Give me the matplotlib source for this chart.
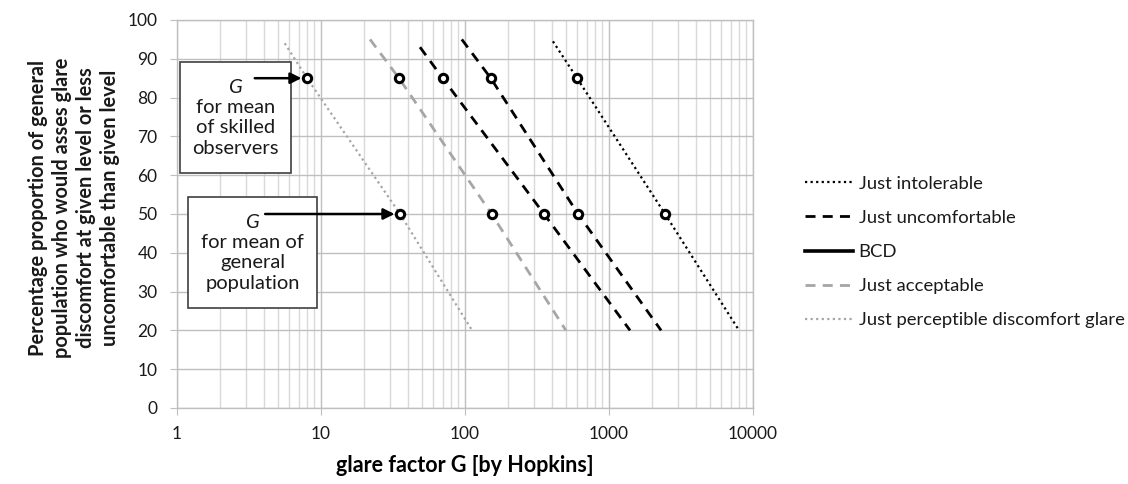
import numpy as np
import matplotlib
matplotlib.use("Agg")
import matplotlib.pyplot as plt
from matplotlib.lines import Line2D
from matplotlib.patches import Rectangle

# ── Data (proportion levels vs. glare factor G) ────────────────────────────
lvl_intol  = [94.5, 85, 50, 20]
g_intol    = [408, 600, 2450, 8000]

lvl_uncomf = [95, 85, 50, 20]
g_uncomf   = [95, 151, 610, 2300]

lvl_bcd    = [93, 85, 50, 20]
g_bcd      = [48.7, 70, 354, 1400]

lvl_accept = [95, 85, 50, 20]
g_accept   = [21.9, 34.8, 153, 502]

lvl_percep = [94, 85, 50, 20]
g_percep   = [5.6, 8, 35.4, 112]

labels = ["Just intolerable", "Just uncomfortable", "BCD",
          "Just acceptable", "Just perceptible discomfort glare"]

BLACK = "#000000"
GRAY  = "#a6a6a6"
GRID_MAJ = "#bfbfbf"
GRID_MIN = "#d9d9d9"
TEXT_C = "#1a1a1a"

plt.rcParams.update({
    "font.family": ["Lato", "DejaVu Sans"],
    "font.size": 11,
    "text.color": TEXT_C,
    "xtick.labelcolor": TEXT_C,
    "ytick.labelcolor": TEXT_C,
    "mathtext.fontset": "custom",
    "mathtext.it": "Lato:italic",
    "mathtext.rm": "Lato",
})

fig = plt.figure(figsize=(11.28, 4.84), dpi=100)
ax = fig.add_axes([177 / 1128, 1 - 408 / 484, 576 / 1128, 388 / 484])

DASH = (0, (3.6, 2.6))
DOT = (0, (1, 1.5))

series = [
    (g_intol,  lvl_intol,  BLACK, DOT,  1.6),
    (g_uncomf, lvl_uncomf, BLACK, DASH, 2.0),
    (g_bcd,    lvl_bcd,    BLACK, DASH, 2.0),
    (g_accept, lvl_accept, GRAY,  DASH, 2.0),
    (g_percep, lvl_percep, GRAY,  DOT,  1.6),
]

for g, lvl, col, ls, lw in series:
    ax.plot(g, lvl, color=col, linestyle=ls, linewidth=lw,
            dash_capstyle="butt", zorder=3)
    # circle markers at 85 % and 50 %
    ax.plot(g[1:3], lvl[1:3], linestyle="none", marker="o", ms=6,
            mew=2.2, mec=BLACK, mfc="white", zorder=4)

ax.set_xscale("log")
ax.set_xlim(1, 10000)
ax.set_ylim(0, 100)
ax.set_yticks(np.arange(0, 101, 10))
ax.set_xticks([1, 10, 100, 1000, 10000])
ax.set_xticklabels(["1", "10", "100", "1000", "10000"])
ax.xaxis.set_minor_formatter(plt.NullFormatter())
ax.tick_params(axis="x", which="minor", length=0)
ax.tick_params(axis="both", which="major", length=5, color=GRID_MAJ,
               labelsize=12.5)
ax.tick_params(axis="y", pad=9)
ax.tick_params(axis="x", pad=8)

ax.grid(True, which="major", color=GRID_MAJ, linewidth=1.0)
ax.grid(True, which="minor", axis="x", color=GRID_MIN, linewidth=1.0)
ax.set_axisbelow(True)
for s in ax.spines.values():
    s.set_color(GRID_MAJ)
    s.set_linewidth(1.0)

ax.set_xlabel("glare factor G [by Hopkins]", fontsize=15.5, fontweight="bold",
              labelpad=9)
fig.text(74 / 1128, 1 - 208 / 484,
         "Percentage proportion of general\n"
         "population who would asses glare\n"
         "discomfort at given level or less\n"
         "uncomfortable than given level",
         rotation=90, ha="center", va="center", multialignment="center",
         fontsize=14.4, fontweight="bold", linespacing=1.25)

# ── Annotation boxes ──────────────────────────────────────────────────────
ax.add_patch(Rectangle((0.005, 0.606), 0.193, 0.286, transform=ax.transAxes,
                       facecolor="white", edgecolor="#404040", lw=1.2,
                       zorder=5))
ax.text(0.1016, 0.749, "$G$\nfor mean\nof skilled\nobservers",
        transform=ax.transAxes, ha="center", va="center", fontsize=14.5,
        linespacing=1.22, zorder=6)

ax.add_patch(Rectangle((0.019, 0.258), 0.224, 0.286, transform=ax.transAxes,
                       facecolor="white", edgecolor="#404040", lw=1.2,
                       zorder=5))
ax.text(0.131, 0.401, "$G$\nfor mean of\ngeneral\npopulation",
        transform=ax.transAxes, ha="center", va="center", fontsize=14.5,
        linespacing=1.22, zorder=6)

arrow_kw = dict(arrowstyle="-|>,head_length=0.6,head_width=0.3",
                color=BLACK, lw=1.8, shrinkA=0, shrinkB=4)
ax.annotate("", xy=(g_percep[1], lvl_percep[1]),
            xytext=(0.135, lvl_percep[1]),
            xycoords="data", textcoords=("axes fraction", "data"),
            arrowprops=arrow_kw, zorder=7)
ax.annotate("", xy=(g_percep[2], lvl_percep[2]),
            xytext=(0.153, lvl_percep[2]),
            xycoords="data", textcoords=("axes fraction", "data"),
            arrowprops=arrow_kw, zorder=7)

# ── Legend ────────────────────────────────────────────────────────────────
handles = [
    Line2D([], [], color=BLACK, linestyle=DOT, lw=1.6),
    Line2D([], [], color=BLACK, linestyle=DASH, lw=2.0, dash_capstyle="butt"),
    Line2D([], [], color=BLACK, linestyle="-", lw=2.6),
    Line2D([], [], color=GRAY, linestyle=DASH, lw=2.0, dash_capstyle="butt"),
    Line2D([], [], color=GRAY, linestyle=DOT, lw=1.6),
]
fig.legend(handles, labels, loc="center left",
           bbox_to_anchor=(805 / 1128, 1 - 252 / 484), frameon=False,
           fontsize=13.3, handlelength=2.6, handletextpad=0.3,
           labelspacing=0.98, borderpad=0, borderaxespad=0)

fig.savefig("out.png", dpi=100, facecolor="white")
